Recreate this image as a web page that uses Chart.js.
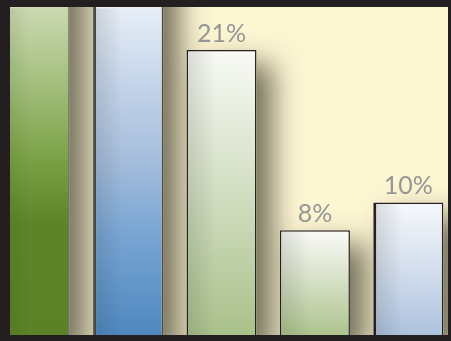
<!DOCTYPE html>
<html>
<head>
<meta charset="utf-8">
<script src="https://cdn.jsdelivr.net/npm/chart.js@4/dist/chart.umd.min.js"></script>
<style>
  html, body { margin: 0; padding: 0; }
  body { width: 451px; height: 341px; background: #231f20; position: relative; overflow: hidden; }
  #wrap { position: absolute; left: -12px; top: 7px; width: 467px; height: 334px; }
  .frame { position: absolute; background: #231f20; }
</style>
</head>
<body>
<div id="wrap"><canvas id="chart" width="467" height="334"></canvas></div>
<div class="frame" style="left:0;top:0;width:451px;height:7px"></div>
<div class="frame" style="left:0;top:0;width:10px;height:341px"></div>
<div class="frame" style="left:0;top:335px;width:451px;height:6px"></div>
<div class="frame" style="left:448px;top:0;width:3px;height:341px"></div>
<script>
const categories = ['1', '2', '3', '4', '5'];
const values = [36, 32, 21, 8, 10];
const labelled = [false, false, true, true, true];

// vertical gradient stops for each bar (offset, colour)
const fills = [
  [[0, '#cbd9b1'], [0.22, '#a5c07f'], [0.46, '#7aa045'], [0.65, '#5d8429'], [1, '#5b8227']],
  [[0, '#e7eef7'], [0.22, '#c6d5ea'], [0.46, '#a5bddc'], [0.68, '#78a5d3'], [1, '#4c86be']],
  [[0, '#f8faf5'], [0.35, '#dde6d1'], [1, '#a8c088']],
  [[0, '#fafbf8'], [0.45, '#d6e0c6'], [1, '#a9c088']],
  [[0, '#f6f8fc'], [0.45, '#d6e0ee'], [1, '#a9bfdc']]
];
const edges = ['#4d4b47', '#4d4b47', '#231f20', '#231f20', '#231f20'];
const cream = '#fdf6d3';

function barFill(c) {
  const { chart, dataIndex } = c;
  const { chartArea, scales } = chart;
  const stops = fills[dataIndex];
  if (!chartArea) return stops[stops.length - 1][1];
  const top = Math.max(scales.y.getPixelForValue(values[dataIndex]), chartArea.top);
  const bottom = scales.y.getPixelForValue(0);
  const g = chart.ctx.createLinearGradient(0, top, 0, bottom);
  stops.forEach(([o, col]) => g.addColorStop(o, col));
  return g;
}

const backdrop = {
  id: 'backdrop',
  beforeDraw(chart) {
    const { ctx, width, height } = chart;
    ctx.save();
    ctx.fillStyle = cream;
    ctx.fillRect(0, 0, width, height);
    ctx.restore();
  },
  // soft drop shadow behind every bar
  beforeDatasetsDraw(chart) {
    const { ctx, chartArea } = chart;
    const meta = chart.getDatasetMeta(0);
    ctx.save();
    ctx.beginPath();
    ctx.rect(chartArea.left, chartArea.top, chartArea.width, chartArea.height);
    ctx.clip();
    ctx.shadowColor = 'rgba(62, 58, 44, 0.72)';
    ctx.shadowBlur = 28;
    ctx.shadowOffsetX = 16;
    ctx.shadowOffsetY = 14;
    ctx.fillStyle = cream;
    meta.data.forEach(bar => {
      const { x, y, base, width } = bar.getProps(['x', 'y', 'base', 'width'], true);
      const top = Math.max(y, chartArea.top - 60);
      ctx.fillRect(x - width / 2, top, width, base - top);
    });
    ctx.restore();
  },
  afterDatasetsDraw(chart) {
    const { ctx, chartArea } = chart;
    const meta = chart.getDatasetMeta(0);
    ctx.save();
    ctx.beginPath();
    ctx.rect(chartArea.left, chartArea.top, chartArea.width, chartArea.height);
    ctx.clip();
    // darker sheen down the left side of each bar
    meta.data.forEach(bar => {
      const { x, y, base, width } = bar.getProps(['x', 'y', 'base', 'width'], true);
      const left = x - width / 2 + 1.5;
      const top = Math.max(y, chartArea.top) + 1.5;
      const g = ctx.createLinearGradient(left, 0, left + width * 0.4, 0);
      g.addColorStop(0, 'rgba(40, 45, 40, 0.14)');
      g.addColorStop(1, 'rgba(40, 45, 40, 0)');
      ctx.fillStyle = g;
      ctx.fillRect(left, top, width * 0.4, base - top);
    });
    // value labels
    ctx.font = '400 25px Lato, "Open Sans", sans-serif';
    ctx.fillStyle = '#979696';
    ctx.textAlign = 'center';
    ctx.textBaseline = 'alphabetic';
    meta.data.forEach((bar, i) => {
      if (!labelled[i]) return;
      ctx.fillText(values[i] + '%', bar.x, bar.y - 8);
    });
    ctx.restore();
  }
};

new Chart(document.getElementById('chart'), {
  type: 'bar',
  data: {
    labels: categories,
    datasets: [{
      data: values,
      backgroundColor: barFill,
      borderColor: edges,
      borderWidth: c => (c.dataIndex === 1 || c.dataIndex === 4)
        ? { left: 3, top: 1.5, right: 1.5, bottom: 0 }
        : { left: 1.5, top: 1.5, right: 1.5, bottom: 0 },
      borderSkipped: false,
      barPercentage: 0.75,
      categoryPercentage: 1
    }]
  },
  options: {
    responsive: false,
    animation: false,
    devicePixelRatio: 1,
    layout: { padding: 0 },
    plugins: { legend: { display: false }, tooltip: { enabled: false } },
    scales: {
      x: { display: false },
      y: { display: false, min: 0, max: 24.1 }
    }
  },
  plugins: [backdrop]
});
</script>
</body>
</html>
